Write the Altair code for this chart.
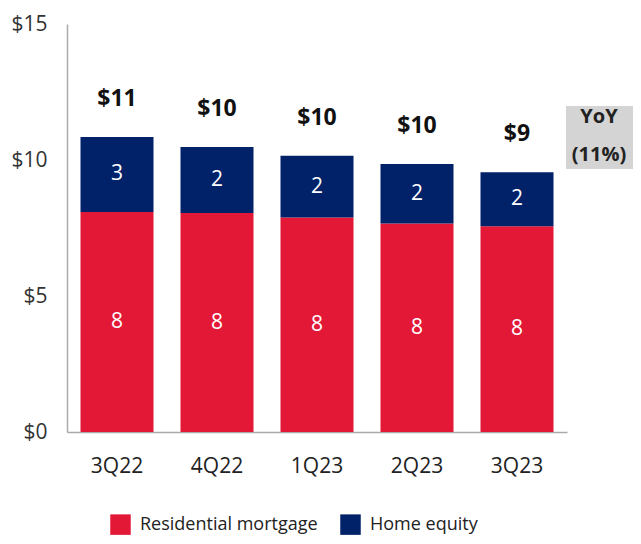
import altair as alt
import pandas as pd

quarters = ["3Q22", "4Q22", "1Q23", "2Q23", "3Q23"]
residential = [8.09, 8.05, 7.89, 7.67, 7.56]
home_equity = [2.76, 2.43, 2.27, 2.18, 1.99]
res_labels = ["8", "8", "8", "8", "8"]
he_labels = ["3", "2", "2", "2", "2"]
total_labels = ["$11", "$10", "$10", "$10", "$9"]
series = ["Residential mortgage", "Home equity"]
colors = ["#E31837", "#012169"]
yoy_lines = ["YoY", "(11%)"]
y_ticks = [0, 5, 10, 15]

rows = []
for q, r, h, rl, hl in zip(quarters, residential, home_equity, res_labels, he_labels):
    rows.append({"quarter": q, "series": series[0], "y0": 0, "y1": r, "mid": r / 2, "label": rl})
    rows.append({"quarter": q, "series": series[1], "y0": r, "y1": r + h, "mid": r + h / 2, "label": hl})
df = pd.DataFrame(rows)

tot = pd.DataFrame({
    "quarter": quarters,
    "total": [r + h for r, h in zip(residential, home_equity)],
    "label": total_labels,
})

xenc = alt.X(
    "quarter:N", sort=quarters,
    scale=alt.Scale(paddingInner=0.27, paddingOuter=0.135),
    axis=alt.Axis(title=None, labelAngle=0, labelFontSize=21, labelColor="#222",
                  labelPadding=23, ticks=False, domainColor="#aaaaaa", domainWidth=1.5),
)
yscale = alt.Scale(domain=[0, 15], nice=False)

bars = alt.Chart(df).mark_bar().encode(
    x=xenc,
    y=alt.Y("y0:Q", scale=yscale,
            axis=alt.Axis(title=None, values=y_ticks, labelExpr="'$' + datum.value",
                          labelFontSize=21, labelColor="#333", labelPadding=20,
                          ticks=False, grid=False, domainColor="#aaaaaa", domainWidth=1.5)),
    y2="y1:Q",
    color=alt.Color("series:N", sort=series,
                    scale=alt.Scale(domain=series, range=colors),
                    legend=alt.Legend(title=None, orient="none", legendX=43, legendY=490,
                                      direction="horizontal", symbolType="square",
                                      symbolSize=420, symbolStrokeWidth=0,
                                      labelFontSize=18, labelColor="#222", labelLimit=400,
                                      labelOffset=9, columnPadding=22)),
)

inner = alt.Chart(df).mark_text(color="white", fontSize=21, baseline="middle").encode(
    x=alt.X("quarter:N", sort=quarters),
    y=alt.Y("mid:Q"),
    text="label:N",
)

totals = alt.Chart(tot).mark_text(fontSize=23, fontWeight="bold", color="#111",
                                  baseline="middle", dy=-38).encode(
    x=alt.X("quarter:N", sort=quarters),
    y=alt.Y("total:Q"),
    text="label:N",
)

box = alt.Chart(pd.DataFrame({"k": ["yoy"]})).mark_rect(color="#d4d4d4").encode(
    x=alt.value(499), x2=alt.value(566), y=alt.value(82), y2=alt.value(145),
)
box_text = alt.Chart(pd.DataFrame({"k": ["yoy"]})).mark_text(
    text=yoy_lines, fontSize=20, fontWeight="bold", color="#222",
    lineHeight=38, baseline="middle",
).encode(x=alt.value(532), y=alt.value(93))

chart = alt.layer(bars, inner, totals, box, box_text).properties(
    width=500, height=408,
    autosize=alt.AutoSizeParams(type="none"),
    padding={"left": 59, "top": 16, "right": 66, "bottom": 104},
).configure(font="Open Sans").configure_view(stroke=None)

chart.save("out.html", embed_options={"renderer": "svg", "actions": False})
